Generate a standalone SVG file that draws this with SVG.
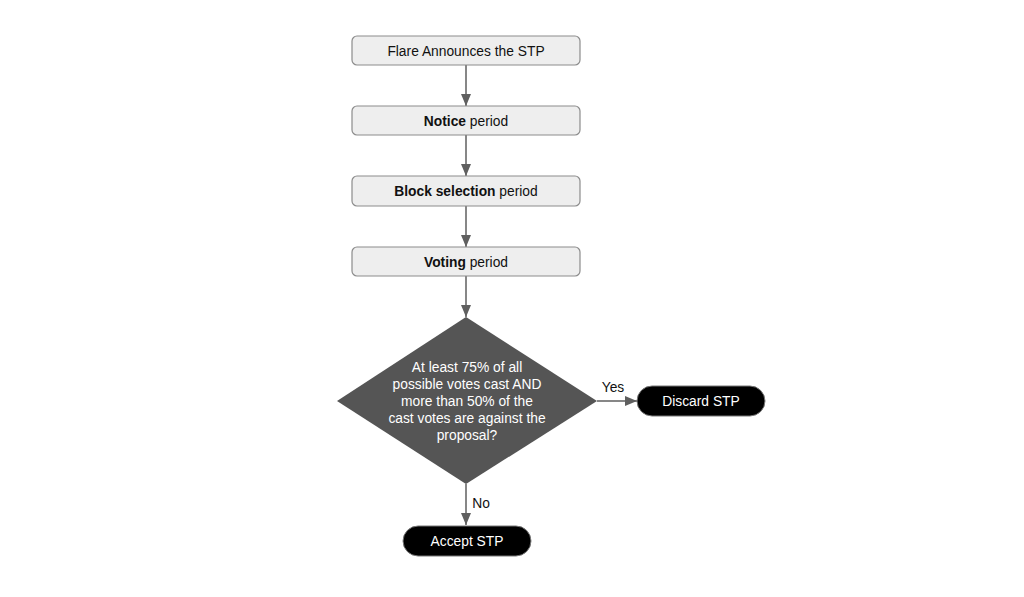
<svg xmlns="http://www.w3.org/2000/svg" width="1024" height="597" viewBox="0 0 1024 597">
<style>
.box{fill:#eeeeee;stroke:#8c8c8c;stroke-width:1.2}
.t{font-family:"Liberation Sans",Arial,sans-serif;font-size:13.8px;fill:#111;text-anchor:middle}
.w{fill:#fff}
.b{font-weight:bold}
.c{stroke:#5f5f5f;stroke-width:1.5;fill:none}
.pill{fill:#000;stroke:#777;stroke-width:1}
</style>
<defs>
<marker id="ah" viewBox="0 0 12 10" refX="12" refY="5" markerWidth="12" markerHeight="10" markerUnits="userSpaceOnUse" orient="auto">
<path d="M0,0 L12,5 L0,10 z" fill="#5f5f5f"/>
</marker>
</defs>
<rect width="1024" height="597" fill="#fff"/>
<g id="connectors">
<path class="c" d="M466,65 V106" marker-end="url(#ah)"/>
<path class="c" d="M466,135 V176" marker-end="url(#ah)"/>
<path class="c" d="M466,206 V247" marker-end="url(#ah)"/>
<path class="c" d="M466,276 V317" marker-end="url(#ah)"/>
<path class="c" d="M597,401 H637" marker-end="url(#ah)"/>
<path class="c" d="M466,484 V525" marker-end="url(#ah)"/>
<text class="t" x="613" y="392">Yes</text>
<text class="t" x="481" y="508">No</text>
</g>
<g id="n1"><rect class="box" x="352" y="36" width="228" height="29" rx="5"/><text class="t" x="466" y="55.5">Flare Announces the STP</text></g>
<g id="n2"><rect class="box" x="352" y="106" width="228" height="29" rx="5"/><text class="t" x="466" y="125.5"><tspan class="b">Notice</tspan> period</text></g>
<g id="n3"><rect class="box" x="352" y="176" width="228" height="30" rx="5"/><text class="t" x="466" y="196"><tspan class="b">Block selection</tspan> period</text></g>
<g id="n4"><rect class="box" x="352" y="247" width="228" height="29" rx="5"/><text class="t" x="466" y="266.5"><tspan class="b">Voting</tspan> period</text></g>
<g id="n5"><polygon points="466,317 597,401 466,484 337,401" fill="#555555"/>
<text class="t w" x="467"><tspan x="467" y="372">At least 75% of all</tspan><tspan x="467" y="389">possible votes cast AND</tspan><tspan x="467" y="406">more than 50% of the</tspan><tspan x="467" y="423">cast votes are against the</tspan><tspan x="467" y="440">proposal?</tspan></text></g>
<g id="n6"><rect class="pill" x="637" y="386" width="128" height="30" rx="15"/><text class="t w" x="701" y="406">Discard STP</text></g>
<g id="n7"><rect class="pill" x="403" y="526" width="128" height="30" rx="15"/><text class="t w" x="467" y="546">Accept STP</text></g>
</svg>
